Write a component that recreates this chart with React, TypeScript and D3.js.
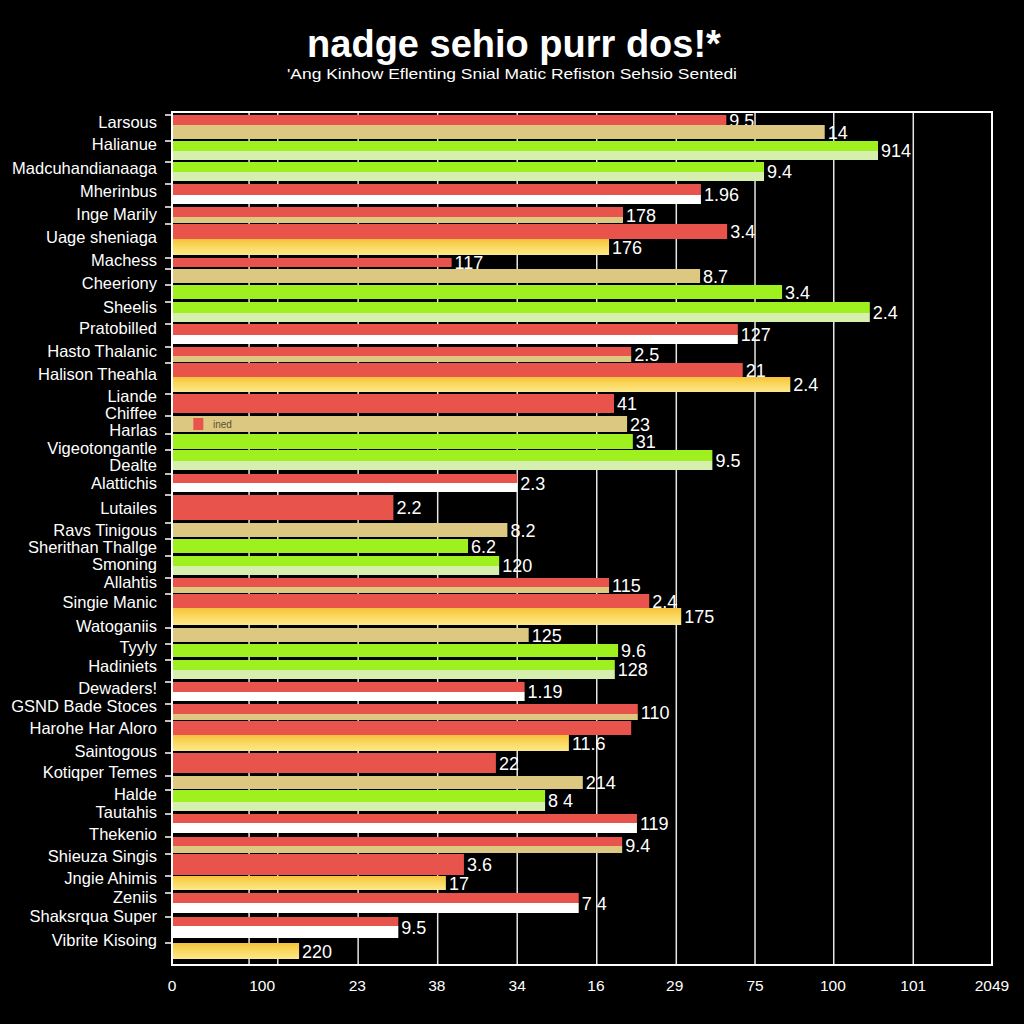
import * as d3 from "d3";

// category names on the left, with their vertical position (plot units, top = 0)
const categories = [
  "Larsous", "Halianue", "Madcuhandianaaga", "Mherinbus", "Inge Marily", "Uage sheniaga",
  "Machess", "Cheeriony", "Sheelis", "Pratobilled", "Hasto Thalanic", "Halison Theahla",
  "Liande", "Chiffee", "Harlas", "Vigeotongantle", "Dealte", "Alattichis", "Lutailes",
  "Ravs Tinigous", "Sherithan Thallge", "Smoning", "Allahtis", "Singie Manic", "Watoganiis",
  "Tyyly", "Hadiniets", "Dewaders!", "GSND Bade Stoces", "Harohe Har Aloro", "Saintogous",
  "Kotiqper Temes", "Halde", "Tautahis", "Thekenio", "Shieuza Singis", "Jngie Ahimis",
  "Zeniis", "Shaksrqua Super", "Vibrite Kisoing",
];
const categoryPos = [
  12, 34, 58, 81, 104, 127, 150, 173, 197, 218, 241, 264, 286, 303, 320, 338, 355, 373, 398,
  420, 437, 454, 472, 492, 516, 537, 556, 578, 596, 618, 641, 662, 684, 702, 724, 746, 768,
  787, 806, 830,
];

// bars, top to bottom
const barValues = [
  67.6, 79.6, 86.1, 72.2, 64.5, 55.0, 67.7, 53.3, 34.1, 64.4, 74.4, 85.1, 69.0, 56.0, 69.6,
  75.4, 53.9, 55.5, 56.2, 65.9, 42.1, 27.0, 40.9, 36.1, 39.9, 53.3, 58.2, 62.1, 43.5, 54.4,
  54.0, 43.0, 56.8, 56.0, 48.4, 39.5, 50.1, 45.5, 56.7, 54.9, 35.6, 33.4, 49.6, 27.6, 15.5,
];
const barLabels = [
  "9.5", "14", "914", "9.4", "1.96", "178", "3.4", "176", "117", "8.7", "3.4", "2.4", "127",
  "2.5", "21", "2.4", "41", "23", "31", "9.5", "2.3", "2.2", "8.2", "6.2", "120", "115", "2.4",
  "175", "125", "9.6", "128", "1.19", "110", "", "11.6", "22", "214", "8 4", "119", "9.4",
  "3.6", "17", "7 4", "9.5", "220",
];
const barColors = [
  ["red"], ["tan"], ["green", "lime"], ["green", "lime"], ["red", "white"], ["red", "tan"],
  ["red"], ["yellow"], ["red"], ["tan"], ["green"], ["green", "lime"], ["red", "white"],
  ["red", "tan"], ["red"], ["yellow"], ["red"], ["tan"], ["green"], ["green", "lime"],
  ["red", "white"], ["red"], ["tan"], ["green"], ["green", "lime"], ["red", "tan"], ["red"],
  ["yellow"], ["tan"], ["green"], ["green", "lime"], ["red", "white"], ["red", "tan"], ["red"],
  ["yellow"], ["red"], ["tan"], ["green", "lime"], ["red", "white"], ["red", "tan"], ["red"],
  ["yellow"], ["red", "white"], ["red", "white"], ["yellow"],
];
// bar thickness (top part, bottom part) and the gap above each bar
const barThick = [
  [10], [14], [10, 9], [10, 9], [11, 9], [10, 6], [15], [16], [9], [14], [14], [11, 9],
  [11, 9], [9, 6], [14], [15], [19], [16], [15], [11, 9], [9, 9], [25], [14], [14], [10, 9],
  [9, 6], [14], [17], [14], [13], [10, 9], [10, 9], [10, 6], [14], [16], [20], [13], [12, 9],
  [9, 10], [9, 7], [21], [14], [10, 10], [9, 12], [16],
];
const barGaps = [
  3, 0, 2, 2, 3, 3, 1, 0, 3, 2, 2, 3, 2, 3, 1, 0, 2, 3, 2, 1, 4, 3, 3, 2, 3, 3, 1, 0, 3, 2,
  3, 3, 3, 1, 0, 2, 3, 1, 3, 4, 1, 1, 3, 4, 5,
];
const plotDepth = 853;

const xTickValues = [0, 11, 22.6, 32.3, 42.1, 51.7, 61.3, 71.1, 80.6, 90.4, 100];
const xTickLabels = ["0", "100", "23", "38", "34", "16", "29", "75", "100", "101", "2049"];
const gridValues = [9.4, 12.9, 22.7, 32.4, 42.1, 51.8, 61.5, 71.1, 80.7, 90.4];

const palette: Record<string, string> = {
  red: "#e8544b",
  tan: "#dcc880",
  green: "#9ef01e",
  lime: "#d6efae",
  white: "#ffffff",
  yellow: "url(#yellowGrad)",
};

const font = "'Liberation Sans', Arial, sans-serif";

export default function App() {
  const width = 1024;
  const height = 1024;
  const left = 172;
  const right = 992;
  const top = 112;
  const bottom = 965;

  const x = d3.scaleLinear().domain([0, 100]).range([left, right]);
  const y = d3.scaleLinear().domain([0, plotDepth]).range([top, bottom]);

  // stack bars downwards using gaps + thickness
  const steps = barThick.map((t, i) => barGaps[i] + d3.sum(t));
  const ends = Array.from(d3.cumsum(steps));
  const bars = barValues.map((v, i) => {
    const y1 = ends[i];
    const y0 = y1 - d3.sum(barThick[i]);
    return { v, i, y0, y1, label: barLabels[i], colors: barColors[i], thick: barThick[i], gap: barGaps[i] };
  });

  const legendBar = bars[17];

  return (
    <svg width={width} height={height} style={{ position: "absolute", left: 0, top: 0 }} fontFamily={font}>
      <defs>
        <linearGradient id="yellowGrad" x1="0" y1="0" x2="0" y2="1">
          <stop offset="0%" stopColor="#f6c23a" />
          <stop offset="45%" stopColor="#fad75c" />
          <stop offset="100%" stopColor="#fde88c" />
        </linearGradient>
      </defs>
      <rect width={width} height={height} fill="#000" />

      <text x={514} y={57} textAnchor="middle" fill="#fff" fontSize={38} fontWeight="bold">
        nadge sehio purr dos!*
      </text>
      <text x={512} y={79} textAnchor="middle" fill="#fff" fontSize={15} textLength={450} lengthAdjust="spacingAndGlyphs">
        'Ang Kinhow Eflenting Snial Matic Refiston Sehsio Sentedi
      </text>

      {/* grid */}
      {gridValues.map((g) => (
        <line key={g} x1={x(g)} x2={x(g)} y1={top} y2={bottom} stroke="#e6e6e6" strokeWidth={1.5} />
      ))}

      {/* bars */}
      {bars.map((b) => {
        let cursor = b.y0;
        return (
          <g key={b.i}>
            {b.thick.map((t, k) => {
              const r = (
                <rect key={k} x={x(0)} y={y(cursor)} width={x(b.v) - x(0)} height={y(cursor + t) - y(cursor)}
                  fill={palette[b.colors[k]]} />
              );
              cursor += t;
              return r;
            })}
            {b.label && (
              <text x={x(b.v) + 3} y={y((b.y0 + b.y1) / 2) + 2} dominantBaseline="middle" fill="#fff" fontSize={18}>
                {b.label}
              </text>
            )}
          </g>
        );
      })}

      {/* small legend inside a bar */}
      <rect x={x(2.6)} y={y(legendBar.y0) + 2} width={10} height={12} fill={palette.red} />
      <text x={x(5)} y={y(legendBar.y0) + 9} dominantBaseline="middle" fill="#5e5034" fontSize={10}>
        ined
      </text>

      {/* frame */}
      <rect x={left} y={top} width={right - left} height={bottom - top} fill="none" stroke="#fff" strokeWidth={2} />

      {/* y ticks */}
      {bars.filter((b) => b.gap > 0).map((b) => (
        <line key={b.i} x1={left - 7} x2={left} y1={y(b.y0)} y2={y(b.y0)} stroke="#fff" strokeWidth={1.5} />
      ))}

      {/* category labels */}
      {categories.map((c, i) => (
        <text key={c} x={157} y={y(categoryPos[i])} textAnchor="end" dominantBaseline="middle" fill="#fff" fontSize={16.5}>
          {c}
        </text>
      ))}

      {/* x tick labels */}
      {xTickValues.map((v, i) => (
        <text key={i} x={x(v)} y={987} textAnchor="middle" dominantBaseline="middle" fill="#fff" fontSize={15.5}>
          {xTickLabels[i]}
        </text>
      ))}
    </svg>
  );
}
